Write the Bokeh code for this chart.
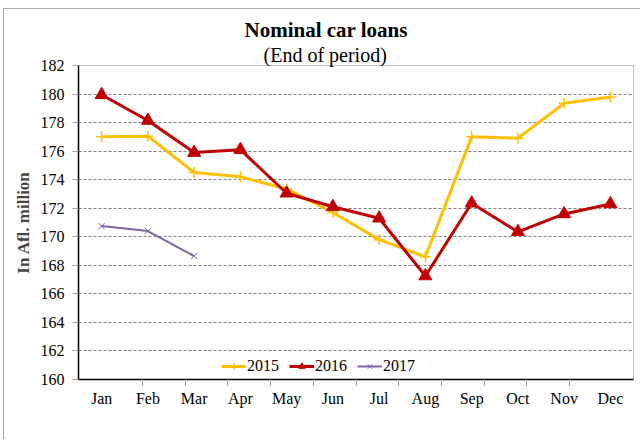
from bokeh.plotting import figure
from bokeh.models import (FactorRange, Range1d, CategoricalAxis,
                          Legend, LegendItem, Title, SingleIntervalTicker, CategoricalScale)
from bokeh.embed import file_html
from bokeh.resources import INLINE

months = ["Jan", "Feb", "Mar", "Apr", "May", "Jun", "Jul", "Aug", "Sep", "Oct", "Nov", "Dec"]
y2015 = [177.0, 177.05, 174.5, 174.2, 173.35, 171.7, 169.8, 168.6, 177.0, 176.9, 179.35, 179.8]
y2016 = [179.95, 178.15, 175.9, 176.1, 173.05, 172.1, 171.3, 167.25, 172.35, 170.35, 171.6, 172.3]
y2017 = [170.75, 170.4, 168.65]
m2017 = months[:3]
series_names = ["2015", "2016", "2017"]
colors = ["#FFC000", "#C00000", "#8064A2"]

FONT = "Liberation Serif"

p = figure(frame_width=555, frame_height=314, x_range=FactorRange(*months), y_range=Range1d(160, 182),
           x_axis_location=None, y_axis_location="left",
           output_backend="svg", toolbar_location=None,
           min_border_left=74, min_border_right=7, min_border_top=56, min_border_bottom=60)
p.styles = {"margin-left": "3px", "margin-top": "8px",
            "border-top": "1px solid #A6A6A6", "border-left": "1px solid #A6A6A6"}

p.outline_line_color = "#BFBFBF"
p.background_fill_color = "white"
p.border_fill_color = "white"

# y axis
ya = p.yaxis[0]
ya.ticker = SingleIntervalTicker(interval=2)
ya.axis_line_color = "black"
ya.axis_line_width = 1.5
ya.major_tick_line_color = "#A6A6A6"
ya.major_tick_out = 6
ya.major_tick_in = 0
ya.minor_tick_line_color = None
ya.major_label_text_font = FONT
ya.major_label_text_font_size = "16px"
ya.major_label_text_color = "black"
ya.major_label_standoff = 8
ya.axis_label = "In Afl. million"
ya.axis_label_text_font = FONT
ya.axis_label_text_font_style = "bold"
ya.axis_label_text_font_size = "17px"
ya.axis_label_standoff = 5

p.xgrid.grid_line_color = None
p.ygrid.grid_line_color = "#7F7F7F"
p.ygrid.grid_line_dash = "3 2"
p.ygrid.grid_line_width = 1
p.ygrid.ticker = SingleIntervalTicker(interval=2)

# boundary ticks: a second factor range whose factor centres fall on the inner month boundaries
bounds = ["b%d" % i for i in range(1, len(months))]
p.extra_x_ranges = {"bnd": FactorRange(factors=bounds, range_padding=1, range_padding_units="absolute")}
p.extra_x_scales = {"bnd": CategoricalScale()}
tick_axis = CategoricalAxis(x_range_name="bnd")
tick_axis.axis_line_color = "black"
tick_axis.axis_line_width = 1.5
tick_axis.major_tick_line_color = "#A6A6A6"
tick_axis.major_tick_out = 6
tick_axis.major_tick_in = 0
tick_axis.major_label_overrides = {b: "" for b in bounds}
tick_axis.major_label_text_font_size = "1px"
tick_axis.major_label_standoff = 0
p.add_layout(tick_axis, "below")

cat_axis = CategoricalAxis()
cat_axis.axis_line_color = None
cat_axis.major_tick_line_color = None
cat_axis.major_tick_out = 0
cat_axis.major_label_text_font = FONT
cat_axis.major_label_text_font_size = "16px"
cat_axis.major_label_text_color = "black"
cat_axis.major_label_standoff = 0
p.add_layout(cat_axis, "below")

# series
r15l = p.line(months, y2015, line_color=colors[0], line_width=3)
r15m = p.scatter(months, y2015, marker="cross", size=11, line_color=colors[0], line_width=1.5)
r16l = p.line(months, y2016, line_color=colors[1], line_width=3)
r16m = p.scatter(months, y2016, marker="triangle", size=13, fill_color=colors[1], line_color=colors[1])
r17l = p.line(m2017, y2017, line_color=colors[2], line_width=2)
r17m = p.scatter(m2017, y2017, marker="x", size=9, line_color=colors[2], line_width=1)

legend = Legend(items=[
    LegendItem(label=series_names[0], renderers=[r15l, r15m]),
    LegendItem(label=series_names[1], renderers=[r16l, r16m]),
    LegendItem(label=series_names[2], renderers=[r17l, r17m]),
], orientation="horizontal", location=(143, 4))
legend.label_text_font = FONT
legend.label_text_font_size = "16px"
legend.label_text_color = "black"
legend.glyph_width = 25
legend.glyph_height = 16
legend.label_height = 16
legend.label_standoff = 1
legend.spacing = 10
legend.padding = 0
legend.margin = 0
legend.border_line_color = None
legend.background_fill_color = "white"
legend.background_fill_alpha = 1
p.add_layout(legend, "center")

sub = Title(text="(End of period)", align="left", offset=185, text_font=FONT,
            text_font_size="20px", text_font_style="normal", text_color="black", standoff=0)
p.add_layout(sub, "above")
main = Title(text="Nominal car loans", align="left", offset=166, text_font=FONT,
             text_font_size="21px", text_font_style="bold", text_color="black", standoff=0)
p.add_layout(main, "above")

open("out.html", "w").write(file_html(p, INLINE))
